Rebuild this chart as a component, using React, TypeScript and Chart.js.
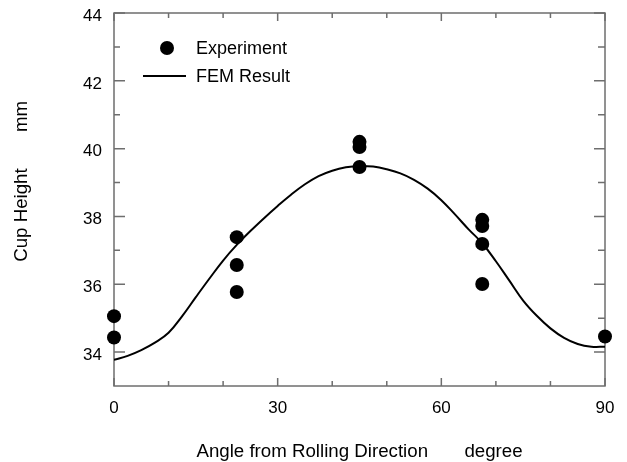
import React, { useEffect, useRef } from 'react';
import { Chart, registerables } from 'chart.js';

Chart.register(...registerables);

// ---- data ----
const expAngles = [0, 0, 22.5, 22.5, 22.5, 45, 45, 45, 67.5, 67.5, 67.5, 67.5, 90];
const expHeights = [35.06, 34.43, 37.39, 36.57, 35.77, 40.2, 40.05, 39.46, 37.9, 37.72, 37.19, 36.01, 34.46];

const femAngles = [
  0, 2.5, 5, 7.5, 10, 12.5, 15, 17.5, 20, 22.5, 25, 27.5, 30, 32.5, 35, 37.5, 40, 42.5, 45,
  47.5, 50, 52.5, 55, 57.5, 60, 62.5, 65, 67.5, 70, 72.5, 75, 77.5, 80, 82.5, 85, 87.5, 90,
];
const femHeights = [
  33.77, 33.89, 34.06, 34.28, 34.57, 35.06, 35.62, 36.17, 36.7, 37.16, 37.57, 37.95, 38.31,
  38.65, 38.95, 39.19, 39.35, 39.45, 39.49, 39.47, 39.39, 39.27, 39.08, 38.82, 38.48, 38.06,
  37.62, 37.21, 36.68, 36.1, 35.52, 35.07, 34.7, 34.42, 34.24, 34.16, 34.16,
];

const xMajorTicks = [0, 30, 60, 90];
const xMinorTicks = [10, 20, 40, 50, 70, 80];
const yMajorTicks = [34, 36, 38, 40, 42, 44];
const yMinorTicks = [35, 37, 39, 41, 43];

const xTitle = 'Angle from Rolling Direction       degree';
const yTitle = '       Cup Height       mm';
const legendLabels = ['Experiment', 'FEM Result'];

const FONT = '"Liberation Sans", Arial, sans-serif';
const AXIS_COLOR = '#6e6e6e';

const frameTicksPlugin = {
  id: 'frameTicks',
  beforeDatasetsDraw(chart: any) {
    const { ctx, chartArea: a, scales } = chart;
    const xs = scales.x;
    const ys = scales.y;
    ctx.save();
    ctx.strokeStyle = AXIS_COLOR;
    ctx.lineWidth = 1.5;
    ctx.strokeRect(a.left, a.top, a.right - a.left, a.bottom - a.top);
    ctx.beginPath();
    const xt = (vals: number[], len: number) =>
      vals.forEach((v) => {
        const px = xs.getPixelForValue(v);
        ctx.moveTo(px, a.bottom);
        ctx.lineTo(px, a.bottom - len);
        ctx.moveTo(px, a.top);
        ctx.lineTo(px, a.top + len);
      });
    const yt = (vals: number[], lenL: number, lenR: number) =>
      vals.forEach((v) => {
        const py = ys.getPixelForValue(v);
        ctx.moveTo(a.left, py);
        ctx.lineTo(a.left + lenL, py);
        ctx.moveTo(a.right, py);
        ctx.lineTo(a.right - lenR, py);
      });
    xt(xMajorTicks, 8);
    xt(xMinorTicks, 5);
    yt(yMajorTicks, 11, 11);
    yt(yMinorTicks, 6, 7);
    ctx.stroke();
    ctx.restore();
  },
};

const legendPlugin = {
  id: 'innerLegend',
  afterDatasetsDraw(chart: any) {
    const { ctx, chartArea: a } = chart;
    ctx.save();
    ctx.fillStyle = '#000';
    ctx.beginPath();
    ctx.arc(a.left + 53, a.top + 35, 7, 0, Math.PI * 2);
    ctx.fill();
    ctx.strokeStyle = '#000';
    ctx.lineWidth = 2;
    ctx.beginPath();
    ctx.moveTo(a.left + 29, a.top + 63);
    ctx.lineTo(a.left + 72, a.top + 63);
    ctx.stroke();
    ctx.font = `18px ${FONT}`;
    ctx.textBaseline = 'alphabetic';
    ctx.textAlign = 'left';
    ctx.fillText(legendLabels[0], a.left + 82, a.top + 41);
    ctx.fillText(legendLabels[1], a.left + 82, a.top + 68.7);
    ctx.restore();
  },
};

export default function App() {
  const ref = useRef<HTMLCanvasElement>(null);

  useEffect(() => {
    if (!ref.current) return;
    const chart = new Chart(ref.current, {
      type: 'scatter',
      data: {
        datasets: [
          {
            label: legendLabels[0],
            data: expAngles.map((a, i) => ({ x: a, y: expHeights[i] })),
            pointRadius: 7,
            pointBackgroundColor: '#000',
            pointBorderWidth: 0,
            showLine: false,
            clip: false,
          } as any,
          {
            label: legendLabels[1],
            data: femAngles.map((a, i) => ({ x: a, y: femHeights[i] })),
            showLine: true,
            borderColor: '#000',
            borderWidth: 2,
            pointRadius: 0,
            tension: 0.4,
            fill: false,
          } as any,
        ],
      },
      options: {
        responsive: false,
        animation: false,
        devicePixelRatio: 1,
        events: [],
        layout: { padding: { top: 13, right: 22, bottom: 0, left: 0 } },
        plugins: {
          legend: { display: false },
          tooltip: { enabled: false },
        },
        scales: {
          x: {
            type: 'linear',
            min: 0,
            max: 90,
            afterBuildTicks: (s: any) => {
              s.ticks = xMajorTicks.map((v) => ({ value: v }));
            },
            afterFit: (s: any) => {
              s.height = 76;
              s.paddingLeft = 0;
              s.paddingRight = 0;
            },
            grid: { display: false, drawTicks: false },
            border: { display: false },
            ticks: {
              font: { family: FONT, size: 17 },
              color: '#000',
              padding: 12,
              maxRotation: 0,
            },
            title: {
              display: true,
              text: xTitle,
              font: { family: FONT, size: 18.7 },
              color: '#000',
              padding: { top: 0, bottom: -1.5 },
            },
          },
          y: {
            type: 'linear',
            min: 33,
            max: 44,
            afterBuildTicks: (s: any) => {
              s.ticks = yMajorTicks.map((v) => ({ value: v }));
            },
            afterFit: (s: any) => {
              s.width = 114;
              s.paddingTop = 0;
              s.paddingBottom = 0;
            },
            grid: { display: false, drawTicks: false },
            border: { display: false },
            ticks: {
              font: { family: FONT, size: 17 },
              color: '#000',
              padding: 12,
              labelOffset: 3,
            },
            title: {
              display: true,
              text: yTitle,
              font: { family: FONT, size: 18.7 },
              color: '#000',
              padding: { top: 10.5, bottom: 0 },
            },
          },
        },
      },
      plugins: [frameTicksPlugin, legendPlugin],
    } as any);
    return () => chart.destroy();
  }, []);

  return (
    <div style={{ position: 'fixed', left: 0, top: 0, width: 627, height: 462, background: '#fff' }}>
      <canvas ref={ref} width={627} height={462} style={{ display: 'block' }} />
    </div>
  );
}
